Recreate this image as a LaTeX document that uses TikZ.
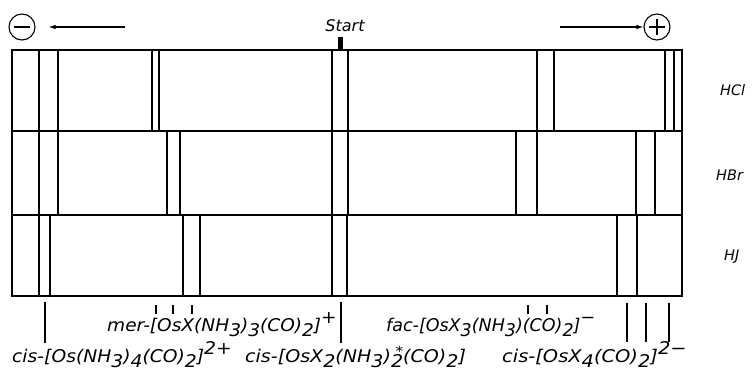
\documentclass[tikz,border=0pt]{standalone}
\usepackage{fontspec}
\setmainfont{DejaVu Sans}
\usetikzlibrary{arrows.meta}
\newcommand{\lo}[1]{\raisebox{-5.5pt}{#1}}
\newcommand{\hi}[1]{\raisebox{7.5pt}{#1}}
\newcommand{\lohi}[2]{\raisebox{-5.5pt}{#1}\llap{\raisebox{6pt}{\fontsize{14}{14}\selectfont #2}}}
\newcommand{\wid}[2]{\scalebox{#1}[1]{#2}}
\tikzset{
  frame/.style={line width=1.8pt},
  band/.style={line width=1.2pt},
  tick/.style={line width=1.2pt},
  lbl/.style={anchor=base west,inner sep=0pt,font=\fontsize{17.5}{18}\selectfont\itshape},
  rlbl/.style={anchor=base west,inner sep=0pt,font=\fontsize{14.5}{16}\selectfont\itshape},
  pole/.style={circle,draw,line width=1.1pt,minimum size=26pt,inner sep=0pt},
  arr/.style={line width=1.1pt,-{Latex[length=7pt,width=4.5pt]}}
}
\begin{document}
\begin{tikzpicture}[x=1pt,y=-1pt]
\useasboundingbox (0,0) rectangle (756,372);
% poles
\node[pole] (minus) at (22,27) {};
\draw[line width=1.1pt] ([xshift=-8pt]minus.center) -- ([xshift=8pt]minus.center);
\node[pole] (plus) at (657,27) {};
\draw[line width=1.1pt] ([xshift=-8pt]plus.center) -- ([xshift=8pt]plus.center);
\draw[line width=1.1pt] ([yshift=-8pt]plus.center) -- ([yshift=8pt]plus.center);
\coordinate (ltail) at (125,27);
\coordinate (rtail) at (560,27);
\draw[arr] (ltail) -- ([xshift=13pt]minus.east);
\draw[arr] (rtail) -- (plus.west);
% start
\node[rlbl,anchor=base,font=\fontsize{16}{18}\selectfont\itshape] (start) at (345,31) {Start};
\fill (338,37) rectangle (343,50);
% bands
\foreach \x in {39,58,152,159,332,348,537,554,665,674}
  \draw[band] (\x,50) -- (\x,131);
\foreach \x in {39,58,167,180,332,348,516,537,636,655}
  \draw[band] (\x,131) -- (\x,215);
\foreach \x in {39,50,183,200,332,347,617,637}
  \draw[band] (\x,215) -- (\x,296);
% frame
\draw[frame] (12,50) rectangle (682,296);
\draw[frame] (12,131) -- (682,131);
\draw[frame] (12,215) -- (682,215);
% acid labels
\node[rlbl] (hcl) at (720,95) {HCl};
\node[rlbl] (hbr) at (716,180) {HBr};
\node[rlbl] (hj) at (724,260) {HJ};
% ticks
\foreach \x in {45,341}
  \draw[tick] (\x,302) -- (\x,343);
\foreach \x in {627,646,669}
  \draw[tick] (\x,303) -- (\x,342);
\foreach \x in {156,173,192,528,547}
  \draw[tick] (\x,305) -- (\x,314);
% species labels
\node[lbl] (mer) at (107,331) {\wid{1.06}{mer-[OsX(NH\lo{3})\lo{3}(CO)\lo{2}]\hi{+}}};
\node[lbl] (fac) at (386,331) {fac-[OsX\lo{3}(NH\lo{3})(CO)\lo{2}]\hi{\textminus}};
\node[lbl] (c1) at (12,362) {\wid{1.07}{cis-[Os(NH\lo{3})\lo{4}(CO)\lo{2}]\hi{2+}}};
\node[lbl] (c2) at (245,362) {\wid{1.09}{cis-[OsX\lo{2}(NH\lo{3})\lohi{2}{*}(CO)\lo{2}]}};
\node[lbl] (c3) at (502,362) {\wid{1.11}{cis-[OsX\lo{4}(CO)\lo{2}]\hi{2\textminus}}};
\end{tikzpicture}
\end{document}
